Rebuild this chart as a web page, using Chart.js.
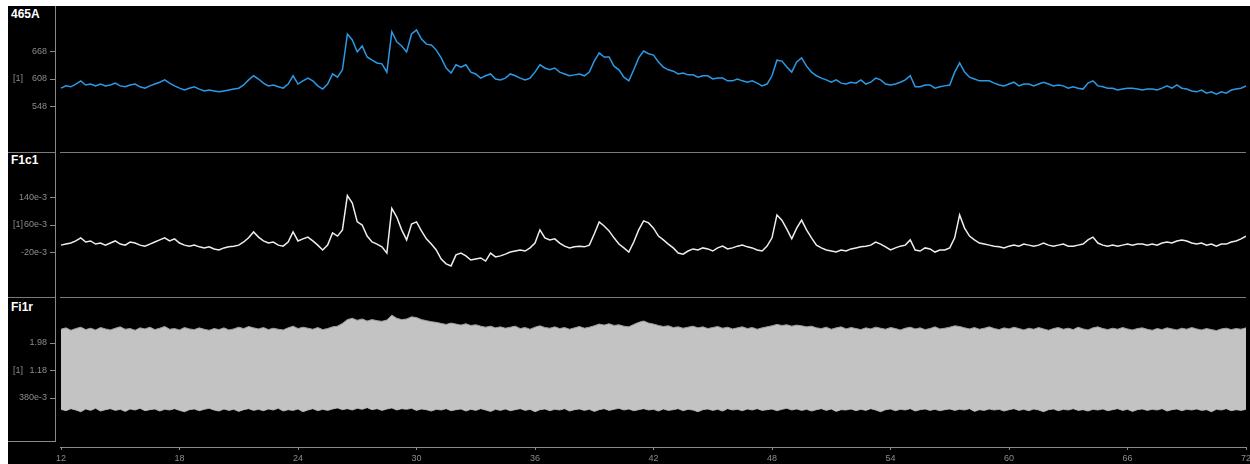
<!DOCTYPE html>
<html><head><meta charset="utf-8">
<script src="https://cdn.jsdelivr.net/npm/chart.js@4.4.1/dist/chart.umd.min.js"></script>
<style>
html,body{margin:0;padding:0;background:#fff;width:1250px;height:464px;overflow:hidden;font-family:"Liberation Sans",Arial,sans-serif}
#bg{position:absolute;left:8px;top:6px;width:1242px;height:458px;background:#000}
.ln{position:absolute;background:#7a7a7a}
.ttl{position:absolute;left:11px;color:#fff;font-weight:bold;font-size:12px;line-height:12px}
canvas{position:absolute;left:8px}
</style></head><body>
<div id="bg"></div>
<div class="ln" style="left:55px;top:6px;width:1px;height:436px;background:#8a8a8a"></div>
<div class="ln" style="left:8px;top:441px;width:48px;height:1px;background:#8a8a8a"></div>
<div class="ln" style="left:8px;top:152px;width:47px;height:1px"></div>
<div class="ln" style="left:60px;top:152px;width:1186px;height:1px"></div>
<div class="ln" style="left:8px;top:297px;width:47px;height:1px"></div>
<div class="ln" style="left:60px;top:297px;width:1186px;height:1px"></div>
<div class="ln" style="left:60px;top:447px;width:1187px;height:1px;background:#8a8a8a"></div>
<div class="ttl" style="top:8px">465A</div>
<div class="ttl" style="top:154px">F1c1</div>
<div class="ttl" style="top:301px">Fi1r</div>
<canvas id="c1" width="1242" height="146" style="top:6px"></canvas>
<canvas id="c2" width="1242" height="145" style="top:152px"></canvas>
<canvas id="c3" width="1242" height="167" style="top:297px"></canvas>
<script>
// sampling grid (time axis)
const tStart = 12, tStep = 0.25;
const xTicks = [12, 18, 24, 30, 36, 42, 48, 54, 60, 66, 72];

// panel tick values and labels
const ticks465A = [548, 608, 668];
const labels465A = ['548', '608', '668'];
const ticksF1c1 = [-0.02, 0.06, 0.14];
const labelsF1c1 = ['-20e-3', '60e-3', '140e-3'];
const ticksFi1r = [0.38, 1.18, 1.98];
const labelsFi1r = ['380e-3', '1.18', '1.98'];
const channelTag = '[1]';

// 465A signal
const sig465A = [
588,593,591,597,604,595,597,593,597,593,
595,599,593,591,595,597,591,588,593,597,
601,606,599,593,588,584,588,591,586,582,
584,582,580,582,584,586,588,595,606,615,
608,599,593,595,591,588,597,615,597,604,
610,604,593,586,597,619,612,628,706,693,
667,680,656,649,643,641,623,711,689,680,
667,706,715,695,684,682,671,654,632,621,
639,634,639,623,619,610,615,619,608,606,
610,619,615,610,606,610,623,639,632,628,
632,623,619,615,617,619,615,623,647,665,
656,656,636,628,612,604,628,654,669,663,
660,645,634,628,625,619,621,617,617,612,
615,615,608,610,610,604,604,608,604,601,
604,599,593,597,615,649,647,634,623,645,
654,636,623,615,610,606,601,606,599,597,
601,599,606,597,601,610,606,597,595,597,
601,606,615,591,591,595,595,588,591,593,
595,623,643,623,612,608,604,604,604,599,
595,593,597,601,593,597,597,593,597,601,
597,593,595,593,588,591,588,586,599,604,
593,591,588,588,584,586,588,588,586,584,
586,586,584,588,593,588,595,588,586,582,
580,584,577,580,575,580,577,584,586,588,
593];

// F1c1 signal
const sigF1c1 = [
0.002,0.005,0.008,0.014,0.023,0.011,0.014,0.005,0.008,0.002,
0.008,0.014,0.005,0.002,0.011,0.008,0.002,-0.001,0.005,0.011,
0.017,0.023,0.014,0.020,0.008,0.002,-0.001,0.002,-0.003,-0.006,
-0.003,-0.009,-0.012,-0.006,-0.003,-0.001,0.002,0.011,0.023,0.040,
0.025,0.014,0.008,0.011,0.002,-0.001,0.011,0.040,0.014,0.020,
0.025,0.014,0.002,-0.012,0.002,0.037,0.028,0.046,0.145,0.123,
0.069,0.060,0.028,0.011,0.005,-0.003,-0.021,0.108,0.083,0.046,
0.017,0.063,0.069,0.043,0.020,0.005,-0.012,-0.038,-0.052,-0.058,
-0.026,-0.021,-0.029,-0.041,-0.038,-0.035,-0.044,-0.021,-0.032,-0.029,
-0.024,-0.018,-0.015,-0.012,-0.015,-0.006,0.008,0.046,0.023,0.017,
0.020,0.008,-0.001,-0.006,-0.003,-0.001,-0.003,0.002,0.034,0.069,
0.057,0.043,0.023,0.005,-0.006,-0.018,0.011,0.046,0.072,0.066,
0.051,0.028,0.017,0.005,-0.006,-0.021,-0.024,-0.015,-0.009,-0.012,
-0.006,-0.009,-0.015,-0.006,-0.001,-0.009,-0.006,-0.001,0.002,-0.003,
-0.006,-0.012,-0.015,-0.001,0.023,0.089,0.074,0.048,0.020,0.051,
0.074,0.046,0.023,0.002,-0.006,-0.012,-0.015,-0.018,-0.012,-0.015,
-0.009,-0.006,-0.003,-0.001,0.002,0.011,0.005,-0.003,-0.012,-0.006,
-0.001,0.002,0.017,-0.012,-0.015,-0.006,-0.009,-0.018,-0.012,-0.012,
-0.006,0.023,0.089,0.051,0.028,0.017,0.008,0.005,0.002,-0.001,
-0.003,-0.006,-0.001,0.002,-0.001,0.005,0.002,-0.001,0.002,0.008,
0.002,-0.001,0.002,0.005,-0.001,-0.001,0.002,0.005,0.017,0.025,
0.008,0.002,-0.001,0.002,-0.001,0.002,0.005,0.002,0.005,0.005,
0.002,0.005,0.002,0.008,0.011,0.008,0.014,0.017,0.014,0.008,
0.005,0.008,0.002,0.005,-0.001,0.005,0.005,0.011,0.014,0.020,
0.028];

// Fi1r envelope (upper / lower)
const fi1rHigh = [
2.38,2.42,2.35,2.40,2.44,2.37,2.41,2.36,2.43,2.39,
2.36,2.41,2.45,2.38,2.40,2.35,2.42,2.39,2.44,2.37,
2.41,2.46,2.38,2.40,2.36,2.43,2.39,2.37,2.42,2.38,
2.35,2.40,2.37,2.42,2.36,2.39,2.44,2.40,2.46,2.42,
2.39,2.43,2.37,2.41,2.38,2.36,2.42,2.47,2.40,2.44,
2.41,2.38,2.43,2.37,2.40,2.45,2.47,2.55,2.66,2.70,
2.64,2.68,2.62,2.66,2.63,2.61,2.65,2.79,2.70,2.66,
2.68,2.74,2.72,2.66,2.63,2.60,2.58,2.55,2.52,2.56,
2.53,2.50,2.54,2.49,2.51,2.47,2.44,2.47,2.42,2.45,
2.41,2.44,2.47,2.40,2.43,2.38,2.44,2.48,2.43,2.41,
2.45,2.40,2.43,2.38,2.42,2.46,2.41,2.44,2.48,2.53,
2.50,2.54,2.49,2.51,2.47,2.45,2.52,2.58,2.62,2.56,
2.53,2.49,2.46,2.48,2.43,2.45,2.41,2.44,2.47,2.42,
2.45,2.40,2.43,2.46,2.41,2.44,2.39,2.42,2.45,2.40,
2.43,2.38,2.42,2.45,2.48,2.52,2.49,2.51,2.47,2.50,
2.48,2.45,2.47,2.42,2.40,2.44,2.38,2.42,2.45,2.39,
2.43,2.40,2.37,2.42,2.39,2.44,2.41,2.38,2.43,2.40,
2.36,2.41,2.44,2.39,2.42,2.37,2.40,2.45,2.39,2.41,
2.44,2.48,2.46,2.42,2.39,2.43,2.38,2.41,2.45,2.40,
2.37,2.42,2.39,2.44,2.40,2.36,2.41,2.38,2.43,2.39,
2.35,2.40,2.43,2.38,2.41,2.37,2.44,2.39,2.36,2.42,
2.45,2.40,2.37,2.41,2.38,2.43,2.39,2.36,2.40,2.42,
2.38,2.35,2.40,2.37,2.42,2.39,2.36,2.41,2.38,2.43,
2.39,2.36,2.40,2.37,2.34,2.39,2.41,2.37,2.40,2.38,
2.42];
const fi1rLow = [
0.05,0.01,0.07,0.03,-0.02,0.06,0.02,0.08,0.00,0.04,
0.07,0.02,0.05,-0.01,0.06,0.03,0.08,0.01,0.04,0.06,
0.00,0.05,0.03,0.07,0.02,-0.02,0.04,0.06,0.01,0.05,
0.08,0.03,0.00,0.06,0.02,0.05,-0.01,0.04,0.07,0.02,
0.05,0.01,0.06,0.03,0.08,0.00,0.04,0.02,0.06,-0.02,
0.03,0.07,0.01,0.05,0.02,0.06,0.09,0.04,0.07,0.03,
0.08,0.05,0.10,0.04,0.07,0.02,0.06,0.09,0.03,0.07,
0.05,0.08,0.02,0.06,0.04,0.00,0.05,0.03,0.07,0.01,
0.04,0.06,0.00,0.05,0.02,0.07,0.03,-0.01,0.05,0.02,
0.06,0.01,0.04,0.07,0.02,0.05,-0.02,0.04,0.06,0.01,
0.05,0.03,0.07,0.00,0.04,0.06,0.02,0.05,-0.01,0.04,
0.07,0.02,0.05,0.08,0.03,0.06,0.01,0.04,0.07,0.03,
0.05,0.00,0.06,0.02,0.04,0.07,0.01,0.05,0.03,-0.02,
0.04,0.06,0.02,0.05,0.00,0.07,0.03,0.05,0.01,0.06,
0.03,0.07,0.02,0.04,0.06,0.01,0.05,0.08,0.03,0.06,
0.02,0.05,0.00,0.04,0.07,0.02,0.06,-0.01,0.04,0.03,
0.06,0.01,0.05,0.02,0.07,0.03,-0.02,0.04,0.06,0.01,
0.05,0.03,0.07,0.00,0.04,0.06,0.02,0.05,0.01,0.04,
0.06,0.02,0.05,0.03,0.07,-0.01,0.04,0.02,0.06,0.03,
0.05,0.00,0.04,0.07,0.02,0.05,0.01,0.06,0.03,-0.02,
0.04,0.06,0.01,0.05,0.03,0.07,0.02,0.04,0.00,0.05,
0.03,0.06,0.01,0.04,0.07,0.02,0.05,-0.01,0.04,0.06,
0.02,0.05,0.03,0.07,0.00,0.04,0.06,0.01,0.05,0.03,
0.06,0.02,0.04,-0.02,0.05,0.03,0.07,0.01,0.04,0.02,
0.05];

const pts = vals => vals.map((v, i) => ({ x: tStart + i * tStep, y: v }));
const X_MIN = 11.6962, X_MAX = 72;
const FONT = { size: 9, family: '"Liberation Sans", Arial, sans-serif' };

// draws the "[1]" channel tag beside the middle tick of each panel
const tagPlugin = {
  id: 'tag',
  afterDraw(chart) {
    const y = chart.scales.y;
    const mid = y.ticks[1].value;
    const ctx = chart.ctx;
    ctx.save();
    ctx.font = '9px "Liberation Sans", Arial, sans-serif';
    ctx.fillStyle = '#8c8c8c';
    ctx.textAlign = 'left';
    ctx.textBaseline = 'middle';
    ctx.fillText(channelTag, 5, y.getPixelForValue(mid));
    ctx.restore();
  }
};

function makeChart(id, datasets, yMin, yMax, yTicks, yLabels, showX) {
  return new Chart(document.getElementById(id), {
    type: 'line',
    data: { datasets },
    plugins: [tagPlugin],
    options: {
      responsive: false, maintainAspectRatio: false, animation: false,
      layout: { padding: { left: 0, right: 4, top: 0, bottom: 0 } },
      plugins: { legend: { display: false }, tooltip: { enabled: false } },
      elements: { point: { radius: 0 }, line: { tension: 0 } },
      scales: {
        x: {
          type: 'linear', min: X_MIN, max: X_MAX, display: showX,
          afterBuildTicks: s => { s.ticks = xTicks.map(v => ({ value: v })); },
          afterFit: s => { if (showX) { s.height = 17; } else { s.height = 0; } s.paddingLeft = 0; s.paddingRight = 0; },
          grid: { display: true, drawOnChartArea: false, drawTicks: true, tickLength: 3, color: '#8a8a8a' },
          border: { display: false },
          ticks: { color: '#8c8c8c', font: FONT, padding: 3, maxRotation: 0, autoSkip: false, callback: v => String(v) }
        },
        y: {
          min: yMin, max: yMax,
          afterBuildTicks: s => { s.ticks = yTicks.map(v => ({ value: v })); },
          afterFit: s => { s.width = 47; s.paddingTop = 0; s.paddingBottom = 0; },
          grid: { display: true, drawOnChartArea: false, drawTicks: true, tickLength: 5, color: '#8a8a8a' },
          border: { display: false },
          ticks: { color: '#8c8c8c', font: FONT, padding: 3, callback: (v, i) => yLabels[i] }
        }
      }
    }
  });
}

makeChart('c1', [{
  data: pts(sig465A), borderColor: '#2a9ae6', borderWidth: 1.5, fill: false
}], 448.9, 767.1, ticks465A, labels465A, false);

makeChart('c2', [{
  data: pts(sigF1c1), borderColor: '#eeeeee', borderWidth: 1.5, fill: false
}], -0.1476, 0.2705, ticksF1c1, labelsF1c1, false);

makeChart('c3', [
  { data: pts(fi1rHigh), borderColor: '#9e9e9e', borderWidth: 1, backgroundColor: '#c3c3c3', fill: '+1' },
  { data: pts(fi1rLow), borderColor: '#9e9e9e', borderWidth: 1, backgroundColor: '#c3c3c3', fill: false }
], -1.045, 3.318, ticksFi1r, labelsFi1r, true);
</script>
</body></html>
